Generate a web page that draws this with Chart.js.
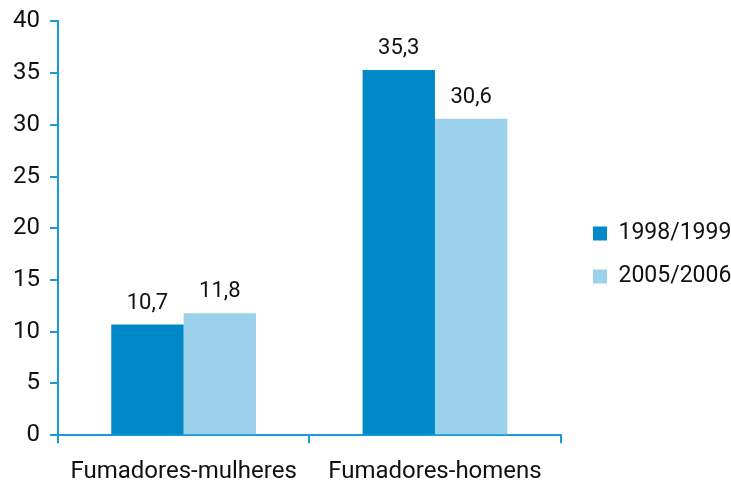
<!DOCTYPE html>
<html>
<head>
<meta charset="utf-8">
<script src="https://cdn.jsdelivr.net/npm/chart.js@4/dist/chart.umd.min.js"></script>
<style>
  html, body { margin: 0; padding: 0; background: #fff; }
  #wrap { width: 731px; height: 485px; }
</style>
</head>
<body>
<div id="wrap"><canvas id="chart" width="731" height="485"></canvas></div>
<script>
const categories = ['Fumadores-mulheres', 'Fumadores-homens'];
const seriesNames = ['1998/1999', '2005/2006'];
const values1998 = [10.7, 35.3];
const values2005 = [11.8, 30.6];
const yTicks = [0, 5, 10, 15, 20, 25, 30, 35, 40];

const DARK = '#0089c9';
const LIGHT = '#9bd1ea';
const AXIS = '#1a9ad6';
const FONT = 'Roboto, "Liberation Sans", sans-serif';

// value labels above bars, comma decimals
const valueLabels = {
  id: 'valueLabels',
  afterDatasetsDraw(chart) {
    const ctx = chart.ctx;
    ctx.save();
    ctx.font = '22px ' + FONT;
    ctx.fillStyle = '#111';
    ctx.textAlign = 'center';
    ctx.textBaseline = 'alphabetic';
    chart.data.datasets.forEach((ds, di) => {
      chart.getDatasetMeta(di).data.forEach((bar, i) => {
        const txt = ds.data[i].toFixed(1).replace('.', ',');
        ctx.fillText(txt, bar.x, bar.y - 16);
      });
    });
    ctx.restore();
  }
};

// nudge the legend box after layout so the plot area stays where it is
const legendShift = {
  id: 'legendShift',
  afterLayout(chart) {
    const lg = chart.legend;
    if (!lg) return;
    const dx = 593 - (lg.left + lg.options.labels.padding);
    const dy = 7 - lg.top;
    lg.left += dx; lg.right += dx;
    lg.top += dy; lg.bottom += dy;
  }
};

new Chart(document.getElementById('chart').getContext('2d'), {
  type: 'bar',
  data: {
    labels: categories,
    datasets: [
      { label: seriesNames[0], data: values1998, backgroundColor: DARK },
      { label: seriesNames[1], data: values2005, backgroundColor: LIGHT }
    ]
  },
  options: {
    responsive: false,
    animation: false,
    layout: { padding: { top: 4, left: 3, right: 2, bottom: -15 } },
    datasets: { bar: { categoryPercentage: 0.576, barPercentage: 1 } },
    plugins: {
      legend: {
        position: 'right',
        labels: {
          boxWidth: 14, boxHeight: 14, padding: 20,
          color: '#111', font: { family: FONT, size: 23 }
        }
      },
      tooltip: { enabled: false }
    },
    scales: {
      x: {
        grid: { display: true, drawOnChartArea: false, drawTicks: true, tickLength: 8, color: AXIS, lineWidth: 2, offset: true },
        border: { color: AXIS, width: 2 },
        ticks: { color: '#111', font: { family: FONT, size: 24 }, padding: 14 }
      },
      y: {
        min: 0, max: 40,
        afterBuildTicks(axis) { axis.ticks = yTicks.map(v => ({ value: v })); },
        grid: { display: true, drawOnChartArea: false, drawTicks: true, tickLength: 8, color: AXIS, lineWidth: 2 },
        border: { color: AXIS, width: 2 },
        ticks: { color: '#111', font: { family: FONT, size: 24, lineHeight: 0.95 }, padding: 10 }
      }
    }
  },
  plugins: [valueLabels, legendShift]
});
</script>
</body>
</html>
